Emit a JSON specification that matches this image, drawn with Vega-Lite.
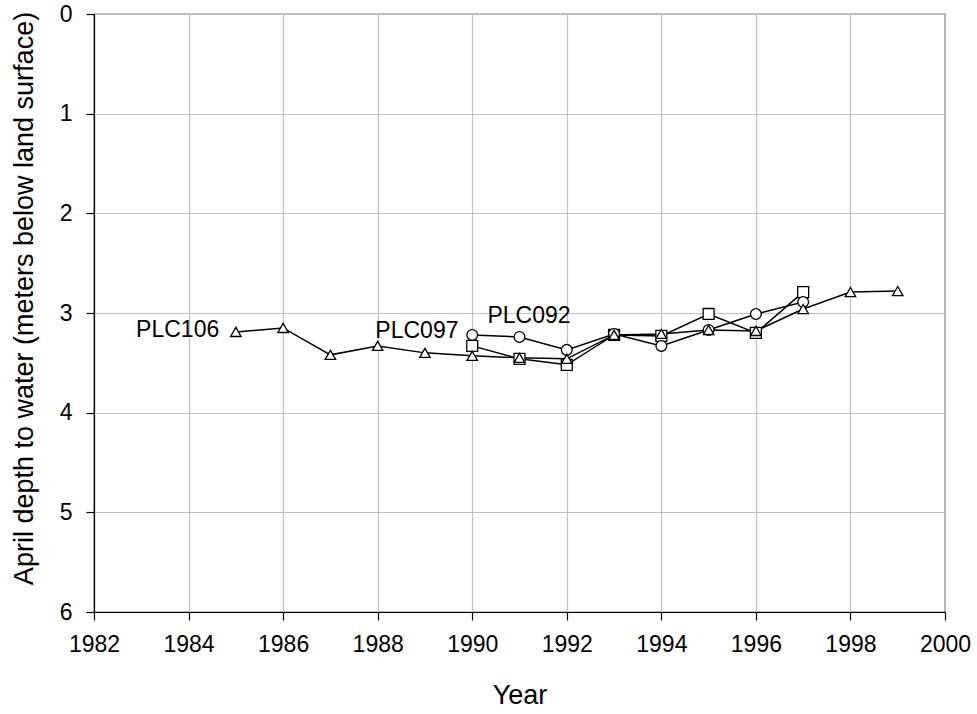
{
  "$schema": "https://vega.github.io/schema/vega-lite/v6.json",
  "width": 851,
  "height": 598,
  "autosize": "none",
  "padding": {"left": 94, "top": 14, "right": 32, "bottom": 102},
  "background": "white",
  "config": {
    "font": "Liberation Sans",
    "view": {"stroke": "black", "strokeWidth": 1.2},
    "axis": {"labelFont": "Liberation Sans", "titleFont": "Liberation Sans", "labelFontSize": 23, "titleFontSize": 27, "titleFontWeight": "normal", "labelColor": "black", "titleColor": "black", "domainColor": "black", "tickColor": "black", "tickSize": 8, "gridColor": "#c0c0c0", "gridWidth": 1.2, "gridOpacity": 1, "domainWidth": 1.2, "tickWidth": 1.2, "labelFlush": false, "labelOverlap": false}
  },
  "datasets": {
    "series": [
      {"well": "PLC097", "year": 1990, "depth": 3.33},
      {"well": "PLC097", "year": 1991, "depth": 3.46},
      {"well": "PLC097", "year": 1992, "depth": 3.52},
      {"well": "PLC097", "year": 1993, "depth": 3.22},
      {"well": "PLC097", "year": 1994, "depth": 3.23},
      {"well": "PLC097", "year": 1995, "depth": 3.01},
      {"well": "PLC097", "year": 1996, "depth": 3.20},
      {"well": "PLC097", "year": 1997, "depth": 2.79},
      {"well": "PLC092", "year": 1990, "depth": 3.22},
      {"well": "PLC092", "year": 1991, "depth": 3.24},
      {"well": "PLC092", "year": 1992, "depth": 3.37},
      {"well": "PLC092", "year": 1993, "depth": 3.21},
      {"well": "PLC092", "year": 1994, "depth": 3.33},
      {"well": "PLC092", "year": 1995, "depth": 3.17},
      {"well": "PLC092", "year": 1996, "depth": 3.01},
      {"well": "PLC092", "year": 1997, "depth": 2.89},
      {"well": "PLC106", "year": 1985, "depth": 3.19},
      {"well": "PLC106", "year": 1986, "depth": 3.15},
      {"well": "PLC106", "year": 1987, "depth": 3.42},
      {"well": "PLC106", "year": 1988, "depth": 3.33},
      {"well": "PLC106", "year": 1989, "depth": 3.40},
      {"well": "PLC106", "year": 1990, "depth": 3.43},
      {"well": "PLC106", "year": 1991, "depth": 3.45},
      {"well": "PLC106", "year": 1992, "depth": 3.46},
      {"well": "PLC106", "year": 1993, "depth": 3.22},
      {"well": "PLC106", "year": 1994, "depth": 3.21},
      {"well": "PLC106", "year": 1995, "depth": 3.17},
      {"well": "PLC106", "year": 1996, "depth": 3.18},
      {"well": "PLC106", "year": 1997, "depth": 2.96},
      {"well": "PLC106", "year": 1998, "depth": 2.79},
      {"well": "PLC106", "year": 1999, "depth": 2.78}
    ],
    "labels": [
      {"label": "PLC106", "year": 1983.77, "depth": 3.17},
      {"label": "PLC097", "year": 1988.83, "depth": 3.18},
      {"label": "PLC092", "year": 1991.2, "depth": 3.03}
    ]
  },
  "encoding": {
    "x": {"field": "year", "type": "quantitative", "scale": {"domain": [1982, 2000], "nice": false, "zero": false},
      "axis": {"title": "Year", "values": [1982, 1984, 1986, 1988, 1990, 1992, 1994, 1996, 1998, 2000], "format": "d", "labelPadding": 13, "titlePadding": 26, "grid": true}},
    "y": {"field": "depth", "type": "quantitative", "scale": {"domain": [0, 6], "reverse": true, "nice": false},
      "axis": {"title": "April depth to water (meters below land surface)", "values": [0, 1, 2, 3, 4, 5, 6], "labelPadding": 14, "titlePadding": 21, "titleY": 284, "grid": true}}
  },
  "layer": [
    {
      "data": {"name": "series"},
      "mark": {"type": "line", "color": "black", "strokeWidth": 1.5},
      "encoding": {"detail": {"field": "well"}}
    },
    {
      "data": {"name": "series"},
      "mark": {"type": "point", "filled": false, "fill": "white", "fillOpacity": 1, "stroke": "black", "strokeWidth": 1.3, "opacity": 1},
      "encoding": {
        "shape": {"field": "well", "type": "nominal", "scale": {"domain": ["PLC106", "PLC092", "PLC097"], "range": ["triangle-up", "circle", "square"]}, "legend": null},
        "size": {"field": "well", "type": "nominal", "scale": {"domain": ["PLC106", "PLC092", "PLC097"], "range": [110, 120, 100]}, "legend": null}
      }
    },
    {
      "data": {"name": "labels"},
      "mark": {"type": "text", "fontSize": 23, "font": "Liberation Sans", "color": "black", "align": "center", "baseline": "middle"},
      "encoding": {"text": {"field": "label"}}
    }
  ]
}
